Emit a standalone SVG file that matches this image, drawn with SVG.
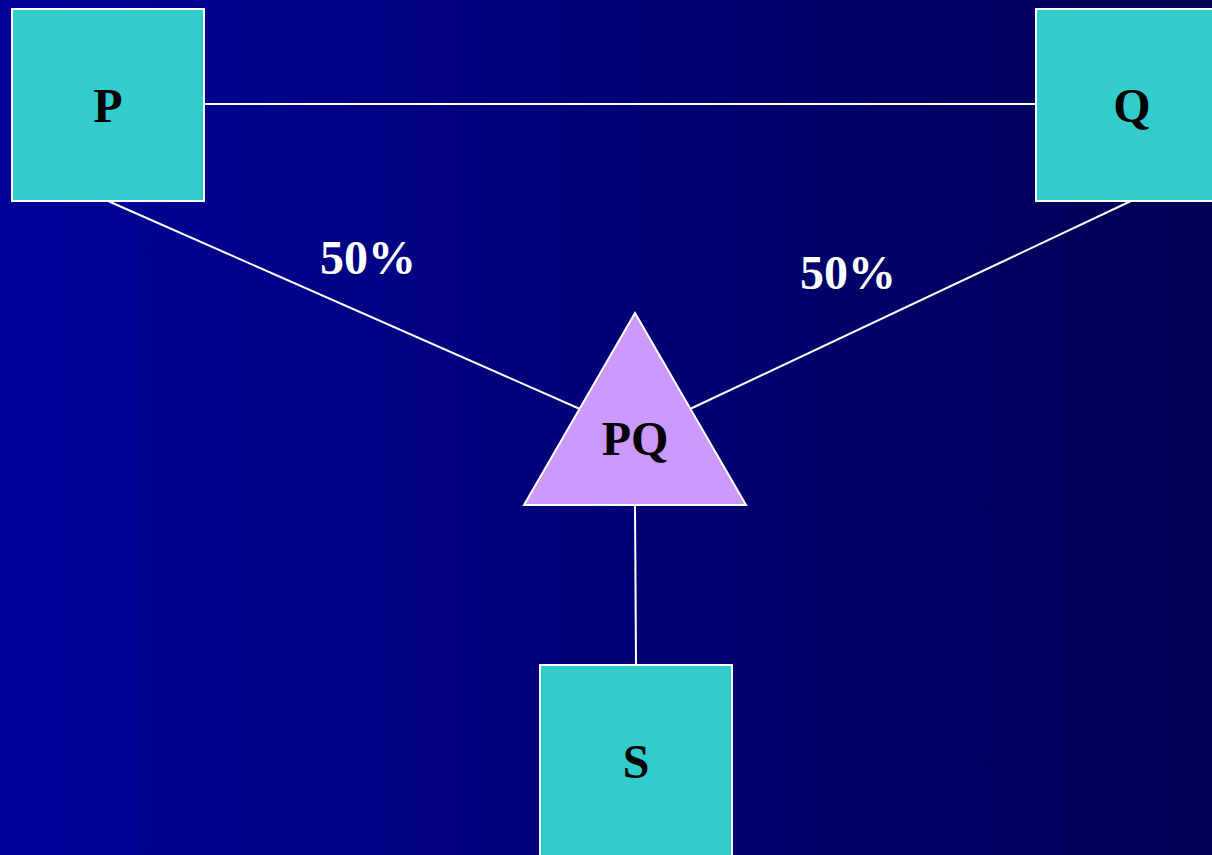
<svg xmlns="http://www.w3.org/2000/svg" width="1212" height="855" viewBox="0 0 1212 855">
<defs>
<linearGradient id="bg" x1="0" y1="0" x2="1" y2="0">
<stop offset="0" stop-color="#000099"/>
<stop offset="1" stop-color="#000055"/>
</linearGradient>
</defs>
<style>
.box{fill:#33CCCC;stroke:#FFFFFF;stroke-width:2}
.tri{fill:#CC99FF;stroke:#FFFFFF;stroke-width:2}
.conn{stroke:#FFFFFF;stroke-width:2;fill:none}
.lbl{font-family:"Liberation Serif","Times New Roman",serif;font-weight:bold;font-size:48px;text-anchor:middle;fill:#000000}
.pct{font-family:"Liberation Serif","Times New Roman",serif;font-weight:bold;font-size:48px;text-anchor:middle;fill:#FFFFFF}
</style>
<rect x="0" y="0" width="1212" height="855" fill="url(#bg)"/>
<g id="connectors">
<line class="conn" x1="204" y1="104" x2="1036" y2="104"/>
<line class="conn" x1="108" y1="201" x2="580" y2="409"/>
<line class="conn" x1="1131" y1="201" x2="690" y2="409"/>
<line class="conn" x1="635" y1="505" x2="636" y2="665"/>
<text class="pct" x="368" y="274">50%</text>
<text class="pct" x="848" y="289">50%</text>
</g>
<g id="P">
<rect class="box" x="12" y="9" width="192" height="192"/>
<text class="lbl" x="108" y="122">P</text>
</g>
<g id="Q">
<rect class="box" x="1036" y="9" width="192" height="192"/>
<text class="lbl" x="1132" y="122">Q</text>
</g>
<g id="PQ">
<polygon class="tri" points="635,313 746,505 524,505"/>
<text class="lbl" x="635" y="455">PQ</text>
</g>
<g id="S">
<rect class="box" x="540" y="665" width="192" height="200"/>
<text class="lbl" x="636" y="778">S</text>
</g>
</svg>
